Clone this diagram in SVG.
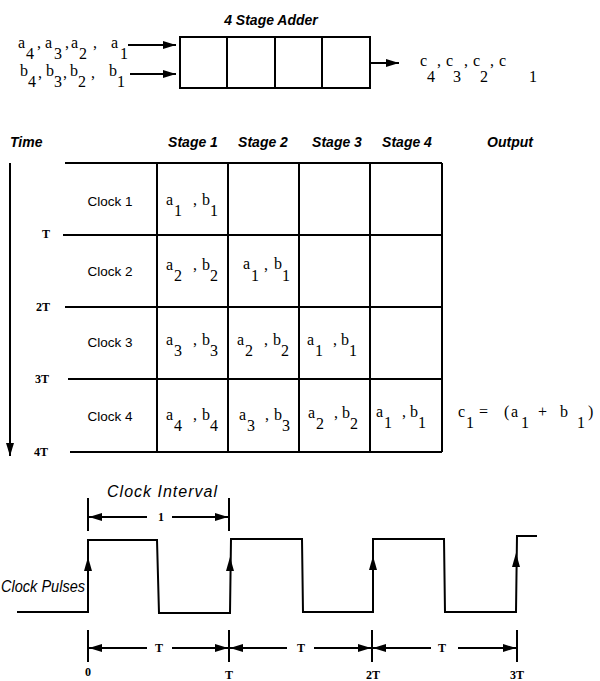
<svg xmlns="http://www.w3.org/2000/svg" width="600" height="681" viewBox="0 0 600 681">
<style>
.ln{stroke:#000;stroke-width:2;fill:none}
.hdr{font-family:"Liberation Sans",Arial,sans-serif;font-style:italic;font-weight:bold;font-size:14px}
.it{font-family:"Liberation Sans",Arial,sans-serif;font-style:italic;font-size:16px}
.clk{font-family:"Liberation Sans",Arial,sans-serif;font-size:13.5px}
.var{font-family:"Liberation Serif","Times New Roman",serif;font-size:16px}
.tl{font-family:"Liberation Serif","Times New Roman",serif;font-weight:bold;font-size:12px}
</style>
<defs>
<marker id="ah" viewBox="0 0 13 8" refX="13" refY="4" markerWidth="13" markerHeight="8" orient="auto" markerUnits="userSpaceOnUse"><path d="M0,0 L13,4 L0,8 z" fill="#000"/></marker>
<path id="up" d="M0,0 L-4,14 L4,14 z" fill="#000"/>
</defs>
<rect width="600" height="681" fill="#fff"/>

<g id="adder">
<text class="hdr" x="271" y="25" text-anchor="middle" font-size="15">4 Stage Adder</text>
<rect class="ln" x="180" y="37" width="190" height="51"/>
<path class="ln" d="M227,37V88M275,37V88M322,37V88"/>
</g>

<g id="inputs">
<text class="var"><tspan x="18" y="48">a</tspan><tspan x="26" y="59">4</tspan><tspan x="37" y="48">,</tspan><tspan x="45" y="48">a</tspan><tspan x="54" y="59">3</tspan><tspan x="65" y="48">,</tspan><tspan x="71" y="48">a</tspan><tspan x="79" y="59">2</tspan><tspan x="93" y="48">,</tspan><tspan x="111" y="48">a</tspan><tspan x="120" y="59">1</tspan></text>
<text class="var"><tspan x="20" y="76">b</tspan><tspan x="28" y="87">4</tspan><tspan x="38" y="78">,</tspan><tspan x="46" y="76">b</tspan><tspan x="54" y="87">3</tspan><tspan x="63" y="78">,</tspan><tspan x="70" y="76">b</tspan><tspan x="78" y="87">2</tspan><tspan x="91" y="78">,</tspan><tspan x="109" y="76">b</tspan><tspan x="117" y="87">1</tspan></text>
</g>

<g id="outputs">
<text class="var"><tspan x="420" y="66">c</tspan><tspan x="427" y="82">4</tspan><tspan x="437" y="66">,</tspan><tspan x="446" y="66">c</tspan><tspan x="453" y="82">3</tspan><tspan x="464" y="66">,</tspan><tspan x="473" y="66">c</tspan><tspan x="480" y="82">2</tspan><tspan x="490" y="66">,</tspan><tspan x="499" y="66">c</tspan><tspan x="529" y="82">1</tspan></text>
</g>

<g id="connectors">
<line class="ln" x1="128" y1="45" x2="176" y2="45" marker-end="url(#ah)"/>
<line class="ln" x1="130" y1="74" x2="176" y2="74" marker-end="url(#ah)"/>
<line class="ln" x1="370" y1="63" x2="399" y2="63" marker-end="url(#ah)"/>
<line class="ln" x1="10" y1="163" x2="10" y2="456" marker-end="url(#ah)"/>
</g>

<g id="table">
<text class="hdr" x="10" y="147">Time</text>
<text class="hdr" x="193" y="147" text-anchor="middle">Stage 1</text>
<text class="hdr" x="263" y="147" text-anchor="middle">Stage 2</text>
<text class="hdr" x="337" y="147" text-anchor="middle">Stage 3</text>
<text class="hdr" x="407" y="147" text-anchor="middle">Stage 4</text>
<text class="hdr" x="510" y="147" text-anchor="middle">Output</text>
<path class="ln" d="M65,163H442M63,235H442M65,307H442M68,379H442M70,452H442M157,163V452M228,163V452M299,163V452M370,163V452M442,163V452"/>
<text class="tl" x="50" y="238" text-anchor="end">T</text>
<text class="tl" x="50" y="311" text-anchor="end">2T</text>
<text class="tl" x="49" y="383" text-anchor="end">3T</text>
<text class="tl" x="48" y="456" text-anchor="end">4T</text>
<text class="clk" x="110" y="206" text-anchor="middle">Clock 1</text>
<text class="clk" x="110" y="276" text-anchor="middle">Clock 2</text>
<text class="clk" x="110" y="347" text-anchor="middle">Clock 3</text>
<text class="clk" x="110" y="421" text-anchor="middle">Clock 4</text>
<text class="var"><tspan x="166" y="205">a</tspan><tspan x="174" y="216">1</tspan><tspan x="193" y="205">,</tspan><tspan x="202" y="205">b</tspan><tspan x="210" y="216">1</tspan></text>
<text class="var"><tspan x="166" y="270">a</tspan><tspan x="174" y="281">2</tspan><tspan x="193" y="270">,</tspan><tspan x="202" y="270">b</tspan><tspan x="210" y="281">2</tspan></text>
<text class="var"><tspan x="243" y="269">a</tspan><tspan x="251" y="281">1</tspan><tspan x="264" y="270">,</tspan><tspan x="274" y="269">b</tspan><tspan x="282" y="281">1</tspan></text>
<text class="var"><tspan x="166" y="345">a</tspan><tspan x="174" y="356">3</tspan><tspan x="193" y="345">,</tspan><tspan x="202" y="345">b</tspan><tspan x="210" y="356">3</tspan></text>
<text class="var"><tspan x="237" y="345">a</tspan><tspan x="245" y="356">2</tspan><tspan x="264" y="345">,</tspan><tspan x="273" y="345">b</tspan><tspan x="281" y="356">2</tspan></text>
<text class="var"><tspan x="307" y="345">a</tspan><tspan x="315" y="356">1</tspan><tspan x="333" y="345">,</tspan><tspan x="341" y="345">b</tspan><tspan x="349" y="356">1</tspan></text>
<text class="var"><tspan x="166" y="420">a</tspan><tspan x="174" y="431">4</tspan><tspan x="193" y="420">,</tspan><tspan x="202" y="420">b</tspan><tspan x="210" y="431">4</tspan></text>
<text class="var"><tspan x="239" y="420">a</tspan><tspan x="247" y="431">3</tspan><tspan x="265" y="420">,</tspan><tspan x="274" y="420">b</tspan><tspan x="282" y="431">3</tspan></text>
<text class="var"><tspan x="308" y="418">a</tspan><tspan x="316" y="429">2</tspan><tspan x="334" y="418">,</tspan><tspan x="342" y="418">b</tspan><tspan x="350" y="429">2</tspan></text>
<text class="var"><tspan x="376" y="417">a</tspan><tspan x="384" y="428">1</tspan><tspan x="402" y="417">,</tspan><tspan x="410" y="417">b</tspan><tspan x="418" y="428">1</tspan></text>
<text class="var"><tspan x="458" y="417">c</tspan><tspan x="466" y="428">1</tspan><tspan x="479" y="417">=</tspan><tspan x="504" y="417">(</tspan><tspan x="511" y="417">a</tspan><tspan x="521" y="428">1</tspan><tspan x="538" y="417">+</tspan><tspan x="560" y="417">b</tspan><tspan x="577" y="428">1</tspan><tspan x="588" y="417">)</tspan></text>
</g>

<g id="clock">
<text class="it" x="162" y="497" text-anchor="middle" textLength="110" lengthAdjust="spacing">Clock Interval</text>
<path class="ln" d="M88,498V531M229,498V531"/>
<line class="ln" x1="147" y1="517" x2="89" y2="517" marker-end="url(#ah)"/>
<line class="ln" x1="172" y1="517" x2="228" y2="517" marker-end="url(#ah)"/>
<text class="tl" x="161" y="521" text-anchor="middle">1</text>
<text class="it" x="1" y="592" font-size="15" textLength="84" lengthAdjust="spacingAndGlyphs">Clock Pulses</text>
<path class="ln" d="M17,612H88V540H157L159,613H230L231,539H302L303,612H373V539H444L445,612H516L517,536H537"/>
<use href="#up" x="88" y="557"/>
<use href="#up" x="230" y="557"/>
<use href="#up" x="373" y="556"/>
<use href="#up" x="516" y="553"/>
<path class="ln" d="M88,630V662M229,630V662M372,630V662M517,630V662"/>
<line class="ln" x1="147" y1="648" x2="89" y2="648" marker-end="url(#ah)"/>
<line class="ln" x1="172" y1="648" x2="228" y2="648" marker-end="url(#ah)"/>
<line class="ln" x1="287" y1="648" x2="230" y2="648" marker-end="url(#ah)"/>
<line class="ln" x1="314" y1="648" x2="371" y2="648" marker-end="url(#ah)"/>
<line class="ln" x1="431" y1="648" x2="373" y2="648" marker-end="url(#ah)"/>
<line class="ln" x1="458" y1="648" x2="516" y2="648" marker-end="url(#ah)"/>
<text class="tl" x="159" y="652" text-anchor="middle">T</text>
<text class="tl" x="301" y="652" text-anchor="middle">T</text>
<text class="tl" x="442" y="652" text-anchor="middle">T</text>
<text class="tl" x="88" y="676" text-anchor="middle">0</text>
<text class="tl" x="229" y="679" text-anchor="middle">T</text>
<text class="tl" x="373" y="679" text-anchor="middle">2T</text>
<text class="tl" x="517" y="679" text-anchor="middle">3T</text>
</g>
</svg>
